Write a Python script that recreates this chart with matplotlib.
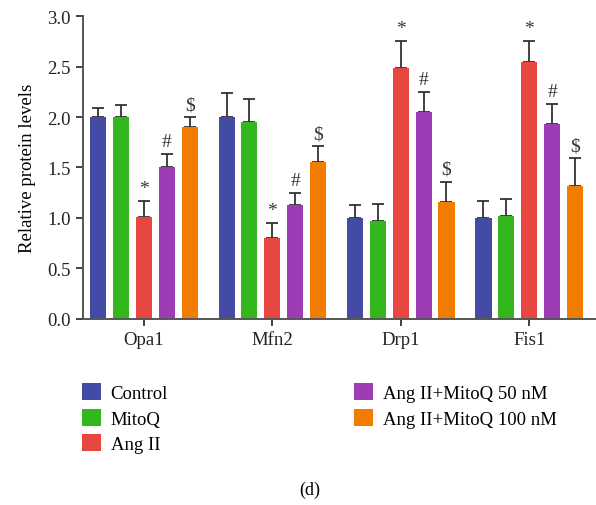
import numpy as np
import matplotlib
matplotlib.use('Agg')
import matplotlib.pyplot as plt

plt.rcParams['font.family'] = ['Liberation Serif', 'DejaVu Serif']

proteins = ['Opa1', 'Mfn2', 'Drp1', 'Fis1']
groups = ['Control', 'MitoQ', 'Ang II', 'Ang II+MitoQ 50 nM', 'Ang II+MitoQ 100 nM']
colors = ['#444ba5', '#34b61e', '#e84641', '#9c3db5', '#f07c00']

# mean values per group, ordered by protein
control = [2.00, 2.00, 1.00, 1.00]
mitoq = [2.00, 1.95, 0.97, 1.02]
angii = [1.01, 0.80, 2.49, 2.55]
mitoq50 = [1.50, 1.13, 2.05, 1.93]
mitoq100 = [1.90, 1.55, 1.16, 1.32]

# upper error (SD)
err_control = [0.09, 0.24, 0.13, 0.17]
err_mitoq = [0.12, 0.23, 0.17, 0.17]
err_angii = [0.16, 0.15, 0.26, 0.20]
err_mitoq50 = [0.13, 0.12, 0.20, 0.20]
err_mitoq100 = [0.10, 0.16, 0.20, 0.27]

marks = ['', '', '*', '#', '$']

values = [control, mitoq, angii, mitoq50, mitoq100]
errors = [err_control, err_mitoq, err_angii, err_mitoq50, err_mitoq100]

fig = plt.figure(figsize=(5.96, 5.06), dpi=100)
ax = fig.add_axes([0.139, 0.368, 0.861, 0.598])

x = np.arange(len(proteins))
pitch = 0.178
width = 0.125
for i, (vals, errs) in enumerate(zip(values, errors)):
    pos = x + (i - 2) * pitch
    ax.bar(pos, vals, width, color=colors[i], label=groups[i], zorder=2)
    ax.errorbar(pos, vals, yerr=[np.zeros(len(vals)), errs], fmt='none',
                ecolor='#333333', elinewidth=1.3, capsize=4, capthick=1.3, zorder=1)
    if marks[i]:
        for p, v, e in zip(pos, vals, errs):
            ax.text(p, v + e + 0.04, marks[i], ha='center', va='bottom',
                    fontsize=14, color='#333333')

ax.set_xlim(-0.475, 3.52)
ax.set_ylim(0, 3.0)
ax.set_yticks(np.arange(0, 3.01, 0.5))
ax.set_yticklabels([f'{v:.1f}' for v in np.arange(0, 3.01, 0.5)])
ax.set_xticks(x)
ax.set_xticklabels(proteins)
ax.set_ylabel('Relative protein levels', fontsize=13.5, labelpad=8)
ax.tick_params(axis='both', labelsize=13.5, colors='#222222', width=1.2, length=5)
for s in ['top', 'right']:
    ax.spines[s].set_visible(False)
for s in ['left', 'bottom']:
    ax.spines[s].set_color('#555555')
    ax.spines[s].set_linewidth(1.4)

fig.legend(loc='upper left', bbox_to_anchor=(0.11, 0.274), ncol=2,
           frameon=False, fontsize=13.5, handlelength=1.0, handleheight=1.0,
           columnspacing=9.95, labelspacing=0.36, handletextpad=0.5)

fig.text(0.52, 0.03, '(d)', ha='center', va='center', fontsize=13)

fig.savefig('out.png', dpi=100)
